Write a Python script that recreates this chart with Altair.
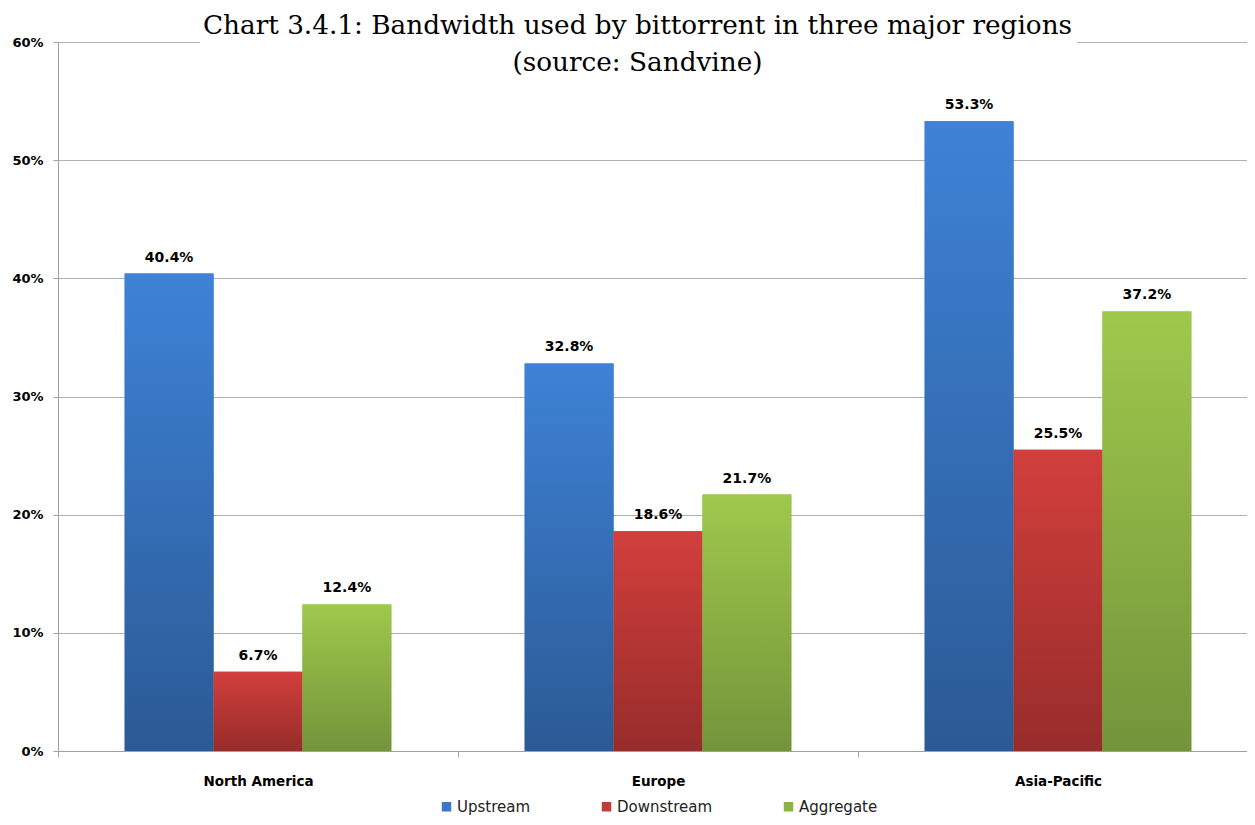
import altair as alt
import pandas as pd

regions = ["North America", "Europe", "Asia-Pacific"]
series = ["Upstream", "Downstream", "Aggregate"]
upstream = [40.4, 32.8, 53.3]
downstream = [6.7, 18.6, 25.5]
aggregate = [12.4, 21.7, 37.2]
y_ticks = [0, 10, 20, 30, 40, 50, 60]

legend_colors = ["#3B78C8", "#C23B39", "#8CB540"]
grad_top = {"Upstream": "#3E82D6", "Downstream": "#D23F3C", "Aggregate": "#9EC94C"}
grad_bot = {"Upstream": "#2B5A95", "Downstream": "#972C2A", "Aggregate": "#74943A"}

rows = []
for i, r in enumerate(regions):
    for s, vals in zip(series, [upstream, downstream, aggregate]):
        rows.append({"region": r, "series": s, "value": vals[i] / 100.0,
                     "label": f"{vals[i]:.1f}%"})
df = pd.DataFrame(rows)

FONT = "DejaVu Sans"

x = alt.X("region:N", sort=regions, title=None,
          scale=alt.Scale(paddingInner=0, paddingOuter=0, range=[0, 1200]),
          axis=alt.Axis(labelAngle=0, labelFont=FONT, labelFontWeight="bold",
                        labelFontSize=13.5, labelColor="#000000", labelPadding=17,
                        tickBand="extent", tickSize=6, tickColor="#A0A0A0",
                        domainColor="#A0A0A0", grid=False))
xo = alt.XOffset("series:N", sort=series,
                 scale=alt.Scale(domain=series, paddingInner=0, paddingOuter=0.75))
y = alt.Y("value:Q", title=None,
          scale=alt.Scale(domain=[0, 0.6], nice=False),
          axis=alt.Axis(format=".0%", values=[v / 100 for v in y_ticks],
                        labelFont=FONT, labelFontWeight="bold", labelFontSize=13,
                        labelColor="#000000", labelPadding=10, tickSize=5,
                        tickColor="#A0A0A0", domainColor="#A0A0A0",
                        gridColor="#B0B0B0", gridWidth=1))

base = alt.Chart(df)

legend_layer = base.mark_bar().encode(
    x=x, xOffset=xo, y=y,
    color=alt.Color("series:N", sort=series,
                    scale=alt.Scale(domain=series, range=legend_colors),
                    legend=alt.Legend(title=None, orient="none", direction="horizontal",
                                      legendX=381, legendY=757,
                                      symbolType="square", symbolSize=90,
                                      symbolStrokeWidth=0,
                                      labelFont=FONT, labelFontSize=15,
                                      labelColor="#222222", columnPadding=68,
                                      labelOffset=3)),
)

grad_layers = []
for s in series:
    g = alt.Gradient(gradient="linear", x1=0, x2=0, y1=0, y2=1,
                     stops=[alt.GradientStop(color=grad_top[s], offset=0),
                            alt.GradientStop(color=grad_bot[s], offset=1)])
    grad_layers.append(
        base.transform_filter(alt.datum.series == s)
        .mark_bar(color=g)
        .encode(x=x, xOffset=xo, y=y)
    )

labels = base.mark_text(baseline="bottom", dy=-9, font=FONT, fontWeight="bold",
                        fontSize=14, color="#000000").encode(
    x=x, xOffset=xo, y=y, text="label:N")

mask = alt.Chart(pd.DataFrame({"k": [0]})).mark_rect(color="white").encode(
    x=alt.value(142), x2=alt.value(1019), y=alt.value(-3), y2=alt.value(3))

chart = alt.layer(legend_layer, *grad_layers, labels, mask).properties(
    width=1189, height=709,
    autosize=alt.AutoSizeParams(type="none"),
    padding={"left": 50, "top": 34, "right": 0, "bottom": 66},
    title=alt.TitleParams(
        text=["Chart 3.4.1: Bandwidth used by bittorrent in three major regions",
              "(source: Sandvine)"],
        font="DejaVu Serif", fontSize=26.3, fontWeight="normal",
        color="#000000", anchor="middle", frame="group", dx=-15,
        lineHeight=37, dy=40, offset=0),
).configure_view(stroke=None).configure(background="white")

chart.save("out.html", embed_options={"renderer": "svg", "actions": False})
